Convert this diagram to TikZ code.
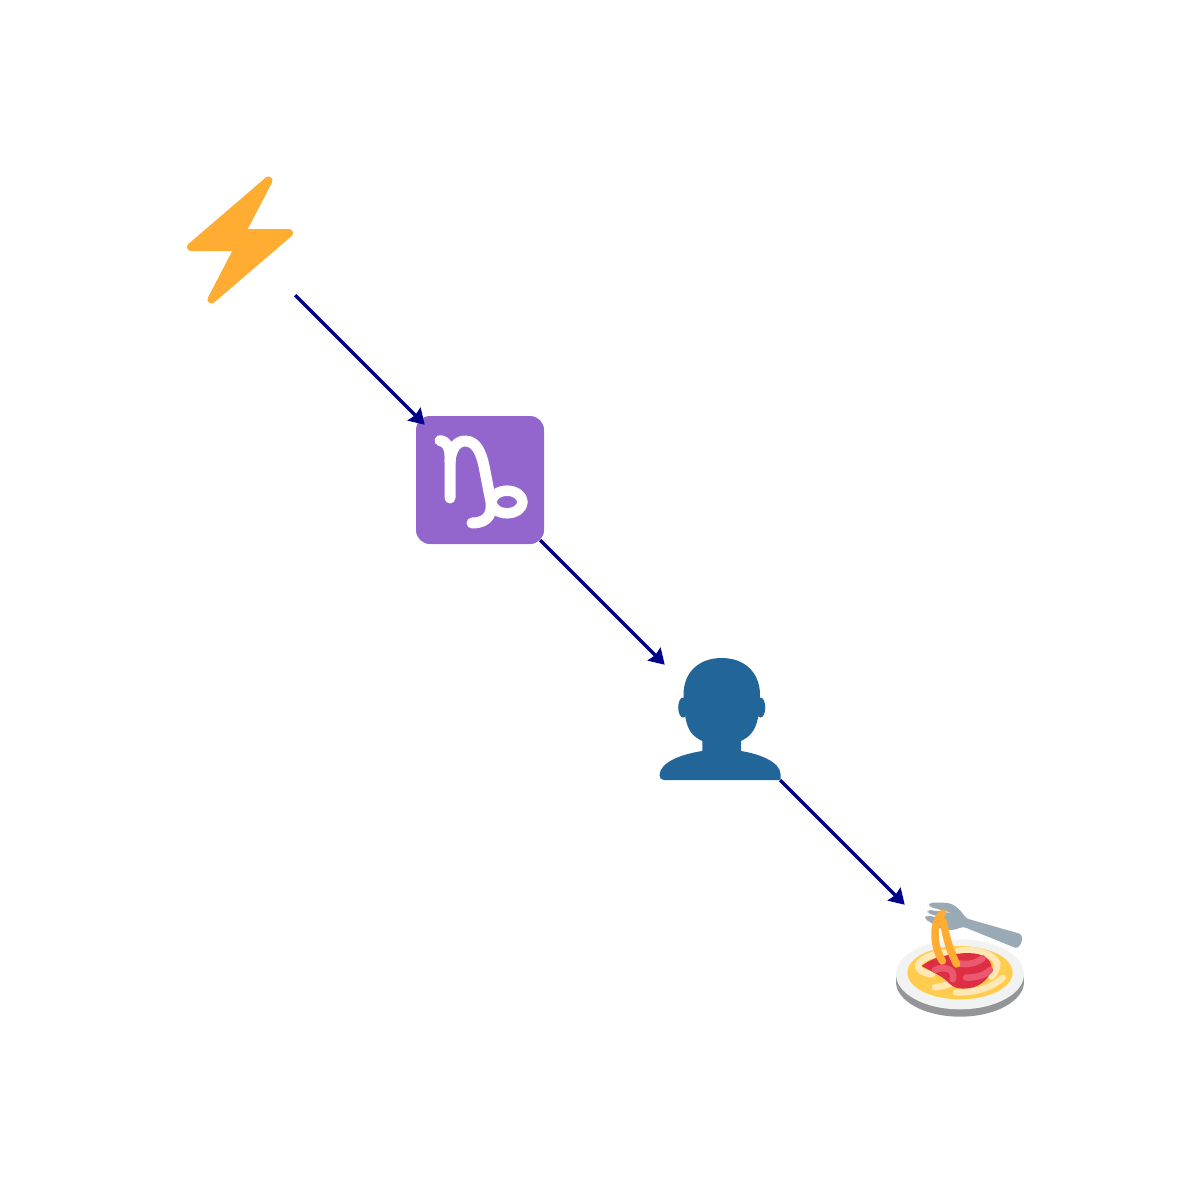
\documentclass[tikz,border=0pt]{standalone}
\usepackage{xcolor}
\usetikzlibrary{arrows.meta,positioning,calc}
\definecolor{linkblue}{HTML}{00008B}
\definecolor{boltorange}{HTML}{FFAC33}
\definecolor{signpurple}{HTML}{9266CC}
\definecolor{bustblue}{HTML}{226699}
\definecolor{plategrey}{HTML}{939598}
\definecolor{platewhite}{HTML}{F1F2F2}
\definecolor{sauceyellow}{HTML}{FFCC4D}
\definecolor{palenoodle}{HTML}{FFE8B6}
\definecolor{meatred}{HTML}{DD2E44}
\definecolor{meatpink}{HTML}{EA596E}
\definecolor{forkgrey}{HTML}{99AAB5}
\tikzset{iconbox/.style={rectangle,minimum size=120pt,inner sep=0pt},
  link/.style={-{Stealth[length=15pt,width=18pt,inset=1.5pt]},line width=3.4pt,draw=linkblue,shorten >=-7pt},
  glyph/.style={draw=white,line width=11pt,line cap=round,line join=round},
  noodle/.style={line width=6.5pt,line cap=round}}
\begin{document}
\begin{tikzpicture}[x=1pt,y=-1pt]
 \useasboundingbox (0,0) rectangle (1200,1200);
 \node[iconbox,minimum size=110pt] (bolt) at (240,240) {};
 \node[iconbox] (sign) at (480,480) {};
 \node[iconbox] (bust) at (720,720) {};
 \node[iconbox] (dish) at (960,960) {};
 % bolt
 \fill[boltorange,draw=boltorange,line width=8pt,line join=round] (268.5,180.5) -- (241.2,233) -- (289,233)
   -- (211.5,299.5) -- (238.8,247) -- (191,247) -- cycle;
 % sign
 \fill[signpurple,rounded corners=14pt] (416,416) rectangle (544,544);
 \draw[glyph] (440,440.5) .. controls (446,441) and (450,447) .. (450,456) -- (450,498);
 \draw[glyph] (450,462) .. controls (451,447) and (458,441) .. (465,441)
   .. controls (476,441) and (481,452) .. (484,466) -- (490,497)
   .. controls (494,512) and (489,523) .. (472,523);
 \draw[glyph,line width=10.5pt] (507,502) ellipse (15.5 and 11.3);
 % bust
 \fill[bustblue] (683.5,695) .. controls (683.5,672) and (699,658) .. (721.7,658)
   .. controls (744,658) and (760,672) .. (760,695) -- (758,718)
   .. controls (755,732) and (749,737) .. (741,741) -- (741,751)
   .. controls (760,754) and (780,762) .. (780.5,774) -- (780.5,780) -- (664,780)
   .. controls (661,780) and (659.5,778) .. (659.5,775)
   .. controls (660,762) and (682,754) .. (702.3,751) -- (702.3,741)
   .. controls (694,737) and (688,732) .. (685.5,718) -- cycle;
 \fill[bustblue] (683,707.5) ellipse (4.8 and 10);
 \fill[bustblue] (760.5,707.5) ellipse (4.8 and 10);
 % dish
 \begin{scope}[shift={(880,880)},scale=1/3]
  \fill[plategrey] (48,283) rectangle (432,305);
  \fill[plategrey] (240,305) ellipse (192 and 105);
  \fill[platewhite] (240,283) ellipse (192 and 105);
  \fill[sauceyellow] (240,278) ellipse (158 and 80);
  \draw[noodle,palenoodle] (155,283) .. controls (105,275) and (105,250) .. (135,235) .. controls (150,225) and (170,222) .. (195,218);
  \draw[noodle,palenoodle] (235,212) .. controls (285,205) and (340,220) .. (352,250) .. controls (352,265) and (345,280) .. (335,290);
  \draw[noodle,palenoodle] (165,322) .. controls (195,318) and (220,310) .. (245,292);
  \draw[noodle,palenoodle] (228,337) .. controls (280,338) and (335,325) .. (368,293);
  \fill[meatred] (125,258) .. controls (150,238) and (180,228) .. (215,224) .. controls (260,216) and (310,215) .. (330,245)
    .. controls (345,270) and (320,310) .. (280,322) .. controls (255,328) and (225,328) .. (210,312)
    .. controls (190,290) and (165,280) .. (125,258) -- cycle;
  \draw[noodle,meatpink] (165,270) .. controls (190,258) and (228,265) .. (218,298);
  \draw[noodle,meatpink] (235,250) .. controls (265,256) and (290,248) .. (308,235);
  \draw[noodle,meatpink] (258,293) .. controls (285,293) and (315,287) .. (330,270);
  \fill[forkgrey,rounded corners=3pt] (148,68) -- (195,68) .. controls (225,72) and (245,95) .. (258,115)
    -- (426,163) -- (426,187) -- (412,206) -- (250,140) -- (222,150) -- (185,148) -- (133,116) -- (139,106)
    -- (205,118) -- (143,100) -- (143,89) -- (220,100) -- (147,80) -- cycle;
  \draw[noodle,boltorange,line width=7.5pt] (188,100) .. controls (160,120) and (155,190) .. (187,243);
  \draw[noodle,boltorange,line width=7.5pt] (190,125) .. controls (198,170) and (210,215) .. (230,252);
 \end{scope}
 \draw[link] (bolt.south east) -- (sign.north west);
 \draw[link] (sign.south east) -- (bust.north west);
 \draw[link] (bust.south east) -- (dish.north west);
\end{tikzpicture}
\end{document}
